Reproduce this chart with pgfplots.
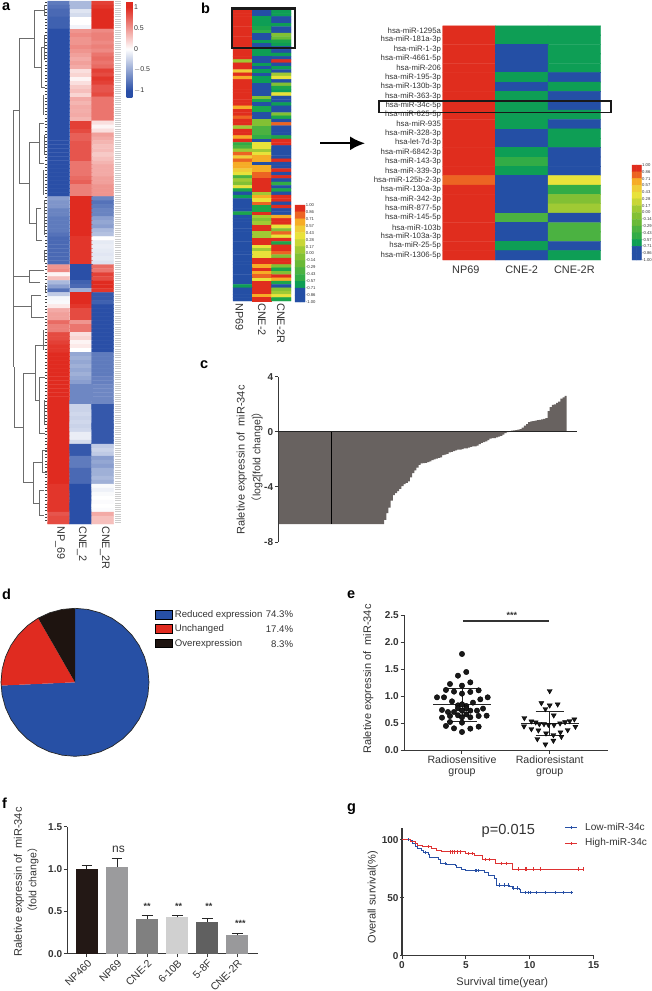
\documentclass[border=0pt]{standalone}
\usepackage{fontspec}
\setmainfont{Liberation Sans}
\newfontfamily\cjk{Noto Sans CJK SC}
\usepackage{pgfplots}
\pgfplotsset{compat=1.18}
\usepgfplotslibrary{polar}
\usetikzlibrary{arrows.meta}

\definecolor{txt}{gray}{0.2}
\definecolor{ax}{gray}{0.22}
\definecolor{pieblue}{RGB}{39,80,165}
\definecolor{piered}{RGB}{224,43,32}
\definecolor{pieblack}{RGB}{30,20,16}
\definecolor{barc}{RGB}{104,98,96}
\definecolor{kmblue}{RGB}{40,80,165}
\definecolor{kmred}{RGB}{222,50,50}

\newcommand{\fs}[1]{\fontsize{#1}{#1}\selectfont}

% picture is laid out in reference pixels, 1px = 1pt, y counted down from the top
\pgfplotsset{
  pos/.style 2 args={at={(#1pt,-#2pt)}},
  colormap={bwr}{rgb255(0pt)=(42,79,167) rgb255(15pt)=(42,79,167) rgb255(115pt)=(255,255,255) rgb255(215pt)=(224,43,32) rgb255(230pt)=(224,43,32)},
  colormap={bgyr}{rgb255=(36,79,165) rgb255=(36,79,165) rgb255=(14,158,85) rgb255=(28,165,75) rgb255=(50,172,70)
    rgb255=(75,178,65) rgb255=(105,185,55) rgb255=(130,192,52) rgb255=(160,202,52) rgb255=(200,214,55)
    rgb255=(232,226,58) rgb255=(240,205,55) rgb255=(246,172,38) rgb255=(236,100,35) rgb255=(224,45,30)},
  heat/.style={matrix plot*, mesh/cols=#1, point meta=\thisrowno{0}},
  /pgfplots/table/heatdata/.style={row sep=crcr, header=false, x expr={mod(\coordindex,#1)},
    y expr={(\coordindex-mod(\coordindex,#1))/#1}},
  base/.style={scale only axis, clip=false, enlargelimits=false, anchor=north west,
    /pgf/number format/assume math mode=true},
  graph/.style={base, axis x line=bottom, axis y line=left, axis line style={-, ax, line width=1pt},
    tick style={ax, line width=1pt}, major tick length=3.5pt, tick align=outside,
    yticklabel style={font=\fs{10}\bfseries, text=txt, inner sep=1.5pt},
    xticklabel style={font=\fs{10.6}, text=txt, inner sep=2pt}},
}

\begin{document}
\begin{tikzpicture}[x=1pt, y=-1pt]
\useasboundingbox (0,0) rectangle (651,991);

% ---------- panel a
\begin{axis}[base, pos={0}{1}, width=47.5pt, height=523pt, hide axis,
  xmin=0, xmax=47.5, ymin=1, ymax=524, y dir=reverse]
\addplot[gray!85!black, line width=.75pt, no marks, unbounded coords=jump] coordinates {
 (19,110)(13.5,110)(13.5,367)(nan,nan)
 (13.5,276)(29,276)(nan,nan) (13.5,306)(31,306)(nan,nan)
 (14.5,367)(14.5,427)(23,427)(nan,nan)
 (34,38)(19,38)(19,183)(29,183)(nan,nan)
 (44,10)(34,10)(34,67)(41,67)(nan,nan)
 (45,47)(41,47)(41,87)(45,87)(nan,nan)
 (47,5)(44,5)(44,15)(47,15)(nan,nan)
 (39.5,142)(29,142)(29,223)(36,223)(nan,nan)
 (44,123)(39.5,123)(39.5,163)(44,163)(nan,nan)
 (41,208)(36,208)(36,240)(42,240)(nan,nan)
 (44,270)(29,270)(29,282)(40,282)(nan,nan)
 (41,295)(31,295)(31,317)(44,317)(nan,nan)
 (35,373)(23,373)(23,482)(33,482)(nan,nan)
 (45,345)(35,345)(35,400)(39,400)(nan,nan)
 (45,377)(39,377)(39,433)(45,433)(nan,nan)
 (42,462)(33,462)(33,503)(39,503)(nan,nan)
 (47,450)(42,450)(42,472)(47,472)(nan,nan)
 (44,490)(39,490)(39,515)(44,515)(nan,nan)
 (44,35)(44,60)(nan,nan) (43,95)(43,115)(nan,nan) (44,135)(44,155)(nan,nan)
 (43,170)(43,195)(nan,nan) (44,200)(44,235)(nan,nan) (44,250)(44,262)(nan,nan)
 (45,285)(45,292)(nan,nan) (43,330)(43,350)(nan,nan) (44,400)(44,425)(nan,nan)
};
\addplot[black!75, line width=1.6pt, dash pattern=on .7pt off 2.6pt, no marks] coordinates {(46,2)(46,523)};
\end{axis}

\begin{axis}[base, pos={47.7}{1}, width=66pt, height=523pt, axis line style={draw=none},
  xmin=-.5, xmax=2.5, ymin=-.5, ymax=130.5, y dir=reverse,
  colormap name=bwr, point meta min=-1.15, point meta max=1.15,
  ytick=\empty, xtick={.06,1.05,2.1}, xticklabels={NP\_69,CNE\_2,CNE\_2R}, major tick length=0pt,
  xticklabel style={rotate=-90, anchor=west, font=\fs{10.8}, text=txt, inner sep=2pt},
  colorbar, colorbar style={at={(parent axis.north east)}, anchor=north west, xshift=4.5pt,
    scale only axis, width=5.6pt, height=96pt, ytick={-1,-.5,0,.5,1},
    yticklabels={$-$1,$-$0.5,0,0.5,1},
    yticklabel style={font=\fs{7}, text=txt, inner sep=1.5pt}, major tick length=0pt, axis line style={draw=none}}]
\addplot[heat=3] table[heatdata=3] {
-.75\\-.4\\.9\\
-.8\\-.4\\.95\\
-.85\\-.15\\1\\
-.85\\-.2\\1\\
-.9\\0\\1\\
-.9\\0\\1\\
-.9\\-.06\\1\\
-1\\.5\\.55\\
-1\\.55\\.6\\
-1\\.5\\.6\\
-1\\.5\\.55\\
-1\\.55\\.6\\
-1\\.5\\.55\\
-1\\.45\\.65\\
-1\\.4\\.7\\
-1\\.45\\.65\\
-1\\.4\\.7\\
-1\\.15\\.9\\
-1\\.2\\.85\\
-1\\.05\\.95\\
-1\\.15\\.9\\
-1\\.25\\.8\\
-1\\.3\\.8\\
-1\\.2\\.85\\
-1\\.4\\.65\\
-1\\.35\\.65\\
-1\\.4\\.65\\
-1\\.38\\.65\\
-1\\.4\\.65\\
-1\\.35\\.65\\
-1\\.9\\.15\\
-1\\.9\\.05\\
-1\\.85\\.15\\
-1\\.75\\.45\\
-1\\.75\\.4\\
-1\\.8\\.35\\
-1\\.8\\.3\\
-1\\.8\\.32\\
-1\\.8\\.25\\
-1\\.8\\.3\\
-1\\.65\\.35\\
-1\\.65\\.4\\
-1\\.65\\.4\\
-1\\.65\\.4\\
-1\\.7\\.45\\
-1\\.75\\.45\\
-1\\.6\\.5\\
-1\\.6\\.5\\
-1\\.6\\.5\\
-.55\\1\\-.7\\
-.6\\1\\-.8\\
-.6\\1\\-.75\\
-.7\\1\\-.7\\
-.7\\1\\-.7\\
-.75\\1\\-.55\\
-.75\\1\\-.5\\
-.75\\1\\-.55\\
-.75\\1\\-.4\\
-.8\\1\\-.35\\
-.85\\.95\\0\\
-.85\\.95\\-.12\\
-.85\\.95\\-.1\\
-.85\\.95\\-.12\\
-.85\\.95\\-.14\\
-.85\\.95\\-.12\\
-.85\\.95\\-.16\\
.5\\-1\\.7\\
.55\\-1\\.65\\
.05\\-1\\.9\\
.3\\-1\\.85\\
-.4\\-.9\\1\\
-.55\\-.85\\1\\
-.8\\-.45\\.95\\
-.3\\1\\-.95\\
-.05\\1\\-.95\\
-.03\\1\\-.9\\
.1\\.95\\-1\\
.4\\.85\\-1\\
.45\\.85\\-1\\
.45\\.85\\-1\\
.7\\.5\\-1\\
.6\\.65\\-1\\
.6\\.65\\-1\\
.85\\.15\\-1\\
.85\\.2\\-1\\
.9\\.05\\-1\\
.95\\.1\\-1\\
.95\\0\\-1\\
1\\-.5\\-.75\\
1\\-.45\\-.75\\
1\\-.5\\-.75\\
1\\-.45\\-.75\\
1\\-.5\\-.75\\
1\\-.45\\-.75\\
1\\-.5\\-.72\\
1\\-.55\\-.72\\
1\\-.68\\-.68\\
1\\-.68\\-.68\\
1\\-.68\\-.68\\
1\\-.68\\-.68\\
1\\-.68\\-.68\\
1\\-.25\\-.95\\
1\\-.25\\-.95\\
1\\-.22\\-.95\\
1\\-.25\\-.95\\
1\\-.22\\-.95\\
1\\-.25\\-.95\\
1\\-.22\\-.95\\
1\\-.1\\-.95\\
1\\-.1\\-.95\\
1\\-.2\\-.95\\
1\\-.95\\-.3\\
1\\-.95\\-.25\\
1\\-.95\\-.3\\
1\\-.75\\-.55\\
1\\-.75\\-.5\\
1\\-.75\\-.55\\
1\\-.85\\-.45\\
1\\-.85\\-.45\\
1\\-.85\\-.4\\
1\\-.85\\-.45\\
.95\\-1\\-.03\\
.95\\-1\\-.08\\
.95\\-1\\-.03\\
.95\\-1\\0\\
.95\\-1\\-.02\\
.95\\-1\\0\\
.95\\-1\\-.02\\
.8\\-1\\.4\\
.85\\-1\\.3\\
.85\\-1\\.3\\
};
\end{axis}
\draw[gray!40, line width=6pt, dash pattern=on 1pt off 1.2pt] (117.5,1) -- (117.5,524);

% ---------- panel b, overview
\begin{axis}[base, pos={233}{10}, width=58pt, height=291pt, axis line style={draw=none},
  xmin=-.5, xmax=2.5, ymin=-.5, ymax=87.5, y dir=reverse,
  colormap name=bgyr, point meta min=0, point meta max=14,
  ytick=\empty, xtick={-.17,1,1.97}, xticklabels={NP69,CNE-2,CNE-2R}, major tick length=0pt,
  xticklabel style={rotate=-90, anchor=west, font=\fs{10.9}, text=txt, inner sep=2pt}]
\addplot[heat=3] table[heatdata=3] {
14\\0\\2\\
14\\0\\2\\
14\\2\\0\\
14\\2\\0\\
14\\2\\2\\
14\\3\\0\\
14\\4\\0\\
14\\0\\7\\
14\\0\\6\\
14\\2\\3\\
14\\0\\2\\
14\\0\\0\\
14\\2\\0\\
14\\2\\2\\
14\\0\\0\\
8\\0\\14\\
14\\2\\0\\
14\\0\\2\\
11\\2\\0\\
14\\0\\8\\
12\\2\\10\\
14\\2\\0\\
14\\0\\7\\
14\\0\\3\\
14\\0\\2\\
14\\0\\10\\
14\\7\\0\\
14\\3\\0\\
14\\0\\2\\
12\\3\\0\\
14\\3\\0\\
14\\0\\7\\
13\\0\\3\\
14\\7\\0\\
14\\7\\13\\
8\\5\\0\\
14\\5\\0\\
14\\5\\0\\
12\\4\\3\\
14\\0\\14\\
4\\10\\14\\
5\\10\\0\\
8\\8\\0\\
13\\10\\0\\
11\\12\\0\\
13\\12\\14\\
12\\0\\0\\
12\\12\\0\\
11\\12\\14\\
10\\13\\0\\
5\\13\\14\\
8\\14\\0\\
7\\14\\4\\
10\\14\\0\\
3\\14\\3\\
0\\8\\0\\
2\\12\\14\\
0\\10\\14\\
0\\13\\0\\
0\\3\\14\\
0\\3\\0\\
3\\14\\0\\
0\\8\\12\\
0\\7\\14\\
0\\8\\14\\
0\\14\\10\\
0\\14\\7\\
0\\8\\13\\
0\\8\\10\\
0\\14\\14\\
0\\14\\3\\
0\\10\\14\\
0\\8\\14\\
0\\10\\13\\
0\\10\\7\\
0\\14\\14\\
0\\14\\14\\
0\\12\\7\\
0\\14\\3\\
0\\12\\7\\
0\\13\\14\\
0\\10\\12\\
0\\14\\3\\
2\\14\\0\\
0\\14\\7\\
0\\14\\8\\
0\\12\\10\\
0\\14\\3\\
};
\end{axis}
\draw[black!90, line width=2.3pt] (232,8.5) rectangle (295,48);

% legend of the overview
\begin{axis}[base, pos={295}{205}, width=10pt, height=97pt, axis line style={draw=none},
  xmin=-.5, xmax=1.5, ymin=-.5, ymax=13.5, y dir=reverse,
  colormap name=bgyr, point meta min=0, point meta max=14, xtick=\empty,
  ytick={-.5,.5,...,13.5}, yticklabels={1.00,0.86,0.71,0.57,0.43,0.28,0.17,0.00,-0.14,-0.29,-0.43,-0.57,-0.71,-0.86,-1.00},
  yticklabel pos=right, major tick length=0pt,
  yticklabel style={font=\fs{4.2}, text=txt, inner sep=.7pt, anchor=west}]
\addplot[heat=2] table[heatdata=2] {
14\\14\\
13\\13\\
12\\12\\
11\\11\\
10\\10\\
9\\9\\
8\\8\\
7\\7\\
6\\6\\
5\\5\\
4\\4\\
2\\2\\
0\\0\\
0\\0\\
};
\end{axis}

% ---------- panel b, detail
\begin{axis}[base, pos={442.7}{25.8}, width=158pt, height=234.2pt, axis line style={draw=none},
  xmin=-.5, xmax=2.5, ymin=-.5, ymax=24.5, y dir=reverse,
  colormap name=bgyr, point meta min=0, point meta max=14,
  ytick={0,...,24}, major tick length=0pt,
  yticklabels={hsa-miR-1295a,hsa-miR-181a-3p,hsa-miR-1-3p,hsa-miR-4661-5p,hsa-miR-206,hsa-miR-195-3p,hsa-miR-130b-3p,hsa-miR-363-3p,hsa-miR-34c-5p,hsa-miR-625-5p,hsa-miR-935,hsa-miR-328-3p,hsa-let-7d-3p,hsa-miR-6842-3p,hsa-miR-143-3p,hsa-miR-339-3p,hsa-miR-125b-2-3p,hsa-miR-130a-3p,hsa-miR-342-3p,hsa-miR-877-5p,hsa-miR-145-5p,hsa-miR-103b,hsa-miR-103a-3p,hsa-miR-25-5p,hsa-miR-1306-5p},
  yticklabel style={font=\fs{7.8}, text=txt, inner sep=1.5pt},
  xtick={-.06,1,2}, xticklabels={NP69,CNE-2,CNE-2R},
  xticklabel style={font=\fs{10.9}, text=txt, inner sep=5.5pt}]
\addplot[heat=3] table[heatdata=3] {
14\\2\\2\\
14\\2\\2\\
14\\0\\2\\
14\\0\\2\\
14\\0\\2\\
14\\2\\0\\
14\\0\\2\\
14\\2\\0\\
14\\2\\0\\
14\\2\\2\\
14\\2\\0\\
14\\0\\2\\
14\\0\\2\\
14\\2\\0\\
14\\4\\0\\
14\\2\\0\\
13\\0\\10\\
14\\0\\4\\
14\\0\\7\\
14\\0\\8\\
14\\5\\0\\
14\\0\\5\\
14\\0\\5\\
14\\2\\0\\
14\\0\\2\\
};
\end{axis}
\draw[black!90, line width=1.2pt] (379,101) rectangle (611,112.3);
\draw[black, line width=2pt, -{Latex[length=15pt,width=14pt]}] (320,143.3) -- (365,143.3);

% legend of the detail
\begin{axis}[base, pos={632}{165}, width=9.3pt, height=95pt, axis line style={draw=none},
  xmin=-.5, xmax=1.5, ymin=-.5, ymax=13.5, y dir=reverse,
  colormap name=bgyr, point meta min=0, point meta max=14, xtick=\empty,
  ytick={-.5,.5,...,13.5}, yticklabels={1.00,0.86,0.71,0.57,0.43,0.28,0.17,0.00,-0.14,-0.29,-0.43,-0.57,-0.71,-0.86,-1.00},
  yticklabel pos=right, major tick length=0pt,
  yticklabel style={font=\fs{4.2}, text=txt, inner sep=.7pt, anchor=west}]
\addplot[heat=2] table[heatdata=2] {
14\\14\\
13\\13\\
12\\12\\
11\\11\\
10\\10\\
9\\9\\
8\\8\\
7\\7\\
6\\6\\
5\\5\\
4\\4\\
2\\2\\
0\\0\\
0\\0\\
};
\end{axis}

% ---------- panel c
\begin{axis}[graph, pos={278.3}{376.7}, width=299pt, height=165.3pt,
  axis x line=none, xmin=-.826, xmax=138.4, ymin=-8, ymax=4, ytick={-8,-4,0,4},
  yticklabels={-8,-4,0,4}]
\addplot[ybar, bar width=2.05pt, fill=barc, draw=none] coordinates {
(0,-6.7)(1,-6.7)(2,-6.7)(3,-6.7)(4,-6.7)(5,-6.7)(6,-6.7)(7,-6.7)(8,-6.7)(9,-6.7)
(10,-6.7)(11,-6.7)(12,-6.7)(13,-6.7)(14,-6.7)(15,-6.7)(16,-6.7)(17,-6.7)(18,-6.7)(19,-6.7)
(20,-6.7)(21,-6.7)(22,-6.7)(23,-6.7)(24,-6.7)(25,-6.7)(26,-6.7)(27,-6.7)(28,-6.7)(29,-6.7)
(30,-6.7)(31,-6.7)(32,-6.7)(33,-6.7)(34,-6.7)(35,-6.7)(36,-6.7)(37,-6.7)(38,-6.7)(39,-6.7)
(40,-6.7)(41,-6.7)(42,-6.7)(43,-6.7)(44,-6.7)(45,-6.7)(46,-6.7)(47,-6.7)(48,-6.7)
(49,-6.4)(50,-5.9)(51,-5.5)(52,-5.0)(53,-4.6)(54,-4.45)(55,-4.3)(56,-4.15)(57,-3.95)(58,-3.8)
(59,-3.7)(60,-3.6)(61,-3.3)(62,-3.0)(63,-2.8)(64,-2.6)(65,-2.4)(66,-2.3)(67,-2.28)(68,-2.25)
(69,-2.2)(70,-2.15)(71,-2.05)(72,-2.0)(73,-1.95)(74,-1.9)(75,-1.85)(76,-1.7)(77,-1.65)(78,-1.6)
(79,-1.5)(80,-1.45)(81,-1.4)(82,-1.35)(83,-1.3)(84,-1.3)(85,-1.25)(86,-1.2)(87,-1.2)(88,-1.15)
(89,-1.1)(90,-1.05)(91,-1.05)(92,-1.0)(93,-.9)(94,-.8)(95,-.75)(96,-.7)(97,-.6)(98,-.5)
(99,-.45)(100,-.45)(101,-.4)(102,-.35)(103,-.3)(104,-.2)(105,-.1)(106,-.02)(107,.05)(108,.08)
(109,.1)(110,.12)(111,.15)(112,.2)(113,.3)(114,.45)(115,.55)(116,.7)(117,.75)(118,.78)
(119,.82)(120,.85)(121,.87)(122,.9)(123,.93)(124,1.0)(125,1.5)(126,1.8)(127,1.95)(128,2.0)
(129,2.1)(130,2.2)(131,2.4)(132,2.5)(133,2.6)};
\addplot[black, line width=.6pt, no marks] coordinates {(23.8,0)(23.8,-6.7)};
\addplot[black!85, line width=1pt, no marks] coordinates {(-.826,0)(138.4,0)};
\end{axis}
\node[rotate=90, text=txt, font=\fs{11}] at (241.7,460) {Raletive expressin of\ \ miR-34c};
\node[rotate=90, text=txt, font=\fs{10.5}] at (257,457) {{\cjk （}log2[fold change]{\cjk ）}};

% ---------- panel d
\begin{polaraxis}[pos={75}{682.3}, anchor=center, scale only axis, width=148pt, height=148pt,
  hide axis, clip=false, xmin=0, xmax=360, ymin=0, ymax=1]
\addplot[fill=pieblue, draw=none, no marks] coordinates {(0,0)(90,1)(80,1)(70,1)(60,1)(50,1)(40,1)(30,1)(20,1)(10,1)(0,1)(350,1)(340,1)(330,1)(320,1)(310,1)(300,1)(290,1)(280,1)(270,1)(260,1)(250,1)(240,1)(230,1)(220,1)(210,1)(200,1)(190,1)(182.5,1)(0,0)};
\addplot[fill=piered, draw=none, no marks] coordinates {(0,0)(182.5,1)(175,1)(165,1)(155,1)(145,1)(135,1)(125,1)(119.9,1)(0,0)};
\addplot[fill=pieblack, draw=none, no marks] coordinates {(0,0)(119.9,1)(110,1)(100,1)(90,1)(0,0)};
\addplot[black!85, line width=.7pt, no marks] coordinates {(0,1)(10,1)(20,1)(30,1)(40,1)(50,1)(60,1)(70,1)(80,1)(90,1)(100,1)(110,1)(120,1)(130,1)(140,1)(150,1)(160,1)(170,1)(180,1)(190,1)(200,1)(210,1)(220,1)(230,1)(240,1)(250,1)(260,1)(270,1)(280,1)(290,1)(300,1)(310,1)(320,1)(330,1)(340,1)(350,1)(360,1)};
\end{polaraxis}
\draw[black, line width=.6pt, fill=pieblue] (155.7,610.7) rectangle (172.3,619.7);
\draw[black, line width=.6pt, fill=piered] (155.7,624.7) rectangle (172.3,633.3);
\draw[black, line width=.6pt, fill=pieblack] (155.7,639) rectangle (172.3,647.7);
\begin{scope}[every node/.style={text=txt, font=\fs{9.6}, inner sep=0pt}]
\node[anchor=west] at (174.7,614.6) {Reduced expression};
\node[anchor=west] at (174.7,629) {Unchanged};
\node[anchor=west] at (174.7,643.7) {Overexpression};
\node[anchor=east] at (293.3,614.6) {74.3\%};
\node[anchor=east] at (293.3,629) {17.4\%};
\node[anchor=east] at (293.3,643.7) {8.3\%};
\end{scope}

% ---------- panel e
\begin{axis}[graph, pos={404}{615}, width=204.3pt, height=135.3pt,
  xmin=.339, xmax=2.668, ymin=0, ymax=2.5, ytick={0,.5,...,2.5},
  yticklabel style={/pgf/number format/fixed, /pgf/number format/fixed zerofill, /pgf/number format/precision=1},
  xtick={1,2}, xticklabels={Radiosensitive,Radioresistant}]
\addplot[only marks, mark=*, mark size=2.7pt, mark options={fill=black!90, draw=none}] coordinates {
(1,1.78)(1.049,1.447)(.954,1.379)(1.095,1.256)(.863,1.225)(1,1.195)(.817,1.115)(.909,1.084)(1.19,1.108)(1.095,1.078)
(.715,.979)(.795,.979)(1,1.047)(1.293,.979)(1.209,.942)(.886,.905)(1.125,.881)(.954,.831)(1.049,.819)(1,.85)
(.954,.776)(1.049,.776)(1.24,.77)(1.171,.733)(.772,.745)(.84,.708)(.909,.708)(1.095,.733)(1,.733)(.954,.647)
(1.049,.665)(.772,.603)(.863,.634)(1,.61)(1.095,.61)(1.19,.634)(1.281,.64)(.863,.523)(1,.511)(.817,.45)
(.909,.406)(1.095,.4)(1.19,.437)(1,.339)};
\addplot[only marks, mark=triangle*, mark size=2.9pt, mark options={rotate=180, fill=black!90, draw=none}] coordinates {
(2,1.096)(1.905,.874)(2,.831)(2.091,.85)(1.951,.764)(2.046,.647)(1.711,.597)(2.281,.573)(2.228,.542)(2.175,.523)
(2.118,.499)(1.791,.536)(1.84,.517)(1.707,.443)(2.293,.437)(1.791,.394)(1.882,.486)(1.935,.486)(1.985,.474)(2.049,.468)
(2.205,.376)(1.871,.369)(1.958,.314)(2.122,.333)(2.042,.283)(2.133,.252)(1.859,.209)(2.042,.179)(1.951,.111)};
\addplot[black!85, line width=.9pt, no marks, unbounded coords=jump] coordinates {
(.67,.84)(1.33,.84)(nan,nan)(1,.53)(1,1.15)(nan,nan)(.83,1.15)(1.17,1.15)(nan,nan)(.83,.53)(1.17,.53)(nan,nan)
(1.67,.49)(2.33,.49)(nan,nan)(2,.27)(2,.714)(nan,nan)(1.84,.714)(2.16,.714)(nan,nan)(1.84,.27)(2.16,.27)};
\addplot[black!80, line width=1.1pt, no marks] coordinates {(1.011,2.389)(1.996,2.389)};
\node[font=\fs{9}\bfseries, text=txt] at (axis cs:1.57,2.49) {***};
\end{axis}
\node[rotate=90, text=txt, font=\fs{11}] at (368.3,679) {Raletive expressin of\ \ miR-34c};
\node[text=txt, font=\fs{10.6}] at (462,773) {group};
\node[text=txt, font=\fs{10.6}] at (549.7,773) {group};

% ---------- panel f
\begin{axis}[graph, pos={67.3}{826.7}, width=191pt, height=127pt,
  xmin=-.655, xmax=5.697, ymin=0, ymax=1.5, ytick={0,.5,1,1.5},
  yticklabel style={/pgf/number format/fixed, /pgf/number format/fixed zerofill, /pgf/number format/precision=1},
  xtick={0,...,5}, xticklabels={NP460,NP69,CNE-2,6-10B,5-8F,CNE-2R},
  xticklabel style={rotate=45, anchor=north east, font=\fs{10.5}, inner sep=1pt},
  every axis plot/.append style={ybar, bar width=21.7pt, bar shift=0pt, draw=none, no marks,
    error bars/y dir=plus, error bars/y explicit, error bars/error bar style={black!85, line width=1pt},
    error bars/error mark options={black!85, line width=1pt, mark size=5.4pt, rotate=90}}]
\addplot[fill={rgb,255:red,35;green,24;blue,21}] coordinates {(0,1.0) +- (0,.037)};
\addplot[fill={rgb,255:red,155;green,155;blue,157}] coordinates {(1,1.03) +- (0,.093)};
\addplot[fill={rgb,255:red,128;green,128;blue,128}] coordinates {(2,.414) +- (0,.035)};
\addplot[fill={rgb,255:red,208;green,208;blue,208}] coordinates {(3,.43) +- (0,.023)};
\addplot[fill={rgb,255:red,96;green,96;blue,96}] coordinates {(4,.378) +- (0,.036)};
\addplot[fill={rgb,255:red,153;green,153;blue,155}] coordinates {(5,.217) +- (0,.019)};
\node[font=\fs{12}, text=txt] at (axis cs:1.05,1.23) {ns};
\node[font=\fs{9}\bfseries, text=txt] at (axis cs:2,.56) {**};
\node[font=\fs{9}\bfseries, text=txt] at (axis cs:3.05,.56) {**};
\node[font=\fs{9}\bfseries, text=txt] at (axis cs:4.05,.56) {**};
\node[font=\fs{9}\bfseries, text=txt] at (axis cs:5.1,.355) {***};
\end{axis}
\node[rotate=90, text=txt, font=\fs{11}] at (19,882) {Raletive expressin of\ \ miR-34c};
\node[rotate=90, text=txt, font=\fs{10.5}] at (33,880) {{\cjk （}fold change{\cjk ）}};

% ---------- panel g
\begin{axis}[graph, pos={402}{827.7}, width=191.7pt, height=128pt,
  xmin=0, xmax=15, ymin=0, ymax=110.3, ytick={0,50,100}, xtick={0,5,10,15},
  xticklabel style={font=\fs{10}\bfseries},
  axis y line=left, axis line style={-, ax, line width=1.3pt}]
\addplot[const plot, kmblue, line width=1pt, no marks] coordinates {
(0,100)(.5,100)(.63,99)(.83,97)(1.02,94.5)(1.2,92)(1.54,91)(1.67,89)(2.06,87.6)(2.19,85)(2.58,84.5)(2.84,82.5)(3.05,79.6)(3.5,78.4)(4.15,77.9)(4.28,75.9)(4.67,74.4)(4.93,73.3)(6.1,73)(6.42,71.8)(6.76,69.5)(7.2,66.7)(7.41,60.9)(8.45,60)(8.66,58.3)(9.18,57.2)(9.24,54.3)(13.41,54.3)};
\addplot[const plot, kmred, line width=1pt, no marks] coordinates {
(0,100)(.63,98.3)(1.02,96.8)(1.2,95.4)(1.62,94)(2.32,92.5)(2.71,91)(3.1,89.4)(4.93,87.9)(5.71,86.5)(6.31,83)(7.28,79.6)(8.61,74.7)(14.19,74.7)};
\addplot[only marks, mark=|, mark size=1.6pt, mark options={kmblue, line width=.7pt}] coordinates {
(.5,100)(1.8,89)(3.4,79.6)(5.7,73.3)(5.85,73.3)(6,73.3)(7.6,60.9)(8,60.9)(8.3,60.9)(8.7,58.3)(9,58.3)(9.63,54.3)(9.89,54.3)(10.07,54.3)(10.54,54.3)(11.24,54.3)(11.97,54.3)(12.63,54.3)(13.28,54.3)};
\addplot[only marks, mark=|, mark size=1.6pt, mark options={kmred, line width=.7pt}] coordinates {
(2.06,94)(3.76,89.4)(3.95,89.4)(4.1,89.4)(4.3,89.4)(4.54,89.4)(5.2,87.9)(5.5,87.9)(6.5,83)(6.8,83)(7.8,79.6)(8.2,79.6)(9.1,74.7)(9.63,74.7)(9.76,74.7)(10.28,74.7)(10.8,74.7)(13.8,74.7)(14.19,74.7)};
\end{axis}
\node[rotate=90, text=txt, font=\fs{11}] at (372.7,897.3) {Overall survival(\%)};
\node[text=txt, font=\fs{11}] at (502.3,982.7) {Survival time(year)};
\node[text=txt, font=\fs{14.6}] at (508.3,831) {p=0.015};
\draw[kmblue, line width=1pt] (565,827.7) -- (577.3,827.7) (571,826) -- (571,829.4);
\draw[kmred, line width=1pt] (565,843.7) -- (577.3,843.7) (571,842) -- (571,845.4);
\node[anchor=west, text=txt, font=\fs{10.1}, inner sep=0pt] at (585,827.3) {Low-miR-34c};
\node[anchor=west, text=txt, font=\fs{10.1}, inner sep=0pt] at (585,843.3) {High-miR-34c};

% ---------- panel letters
\begin{scope}[every node/.style={font=\fs{14.5}\bfseries, inner sep=0pt, anchor=base west}]
\node at (2,10) {a};
\node at (201,13) {b};
\node at (200,368) {c};
\node at (2,599) {d};
\node at (347,598) {e};
\node at (2,808) {f};
\node at (347,811) {g};
\end{scope}
\end{tikzpicture}
\end{document}
